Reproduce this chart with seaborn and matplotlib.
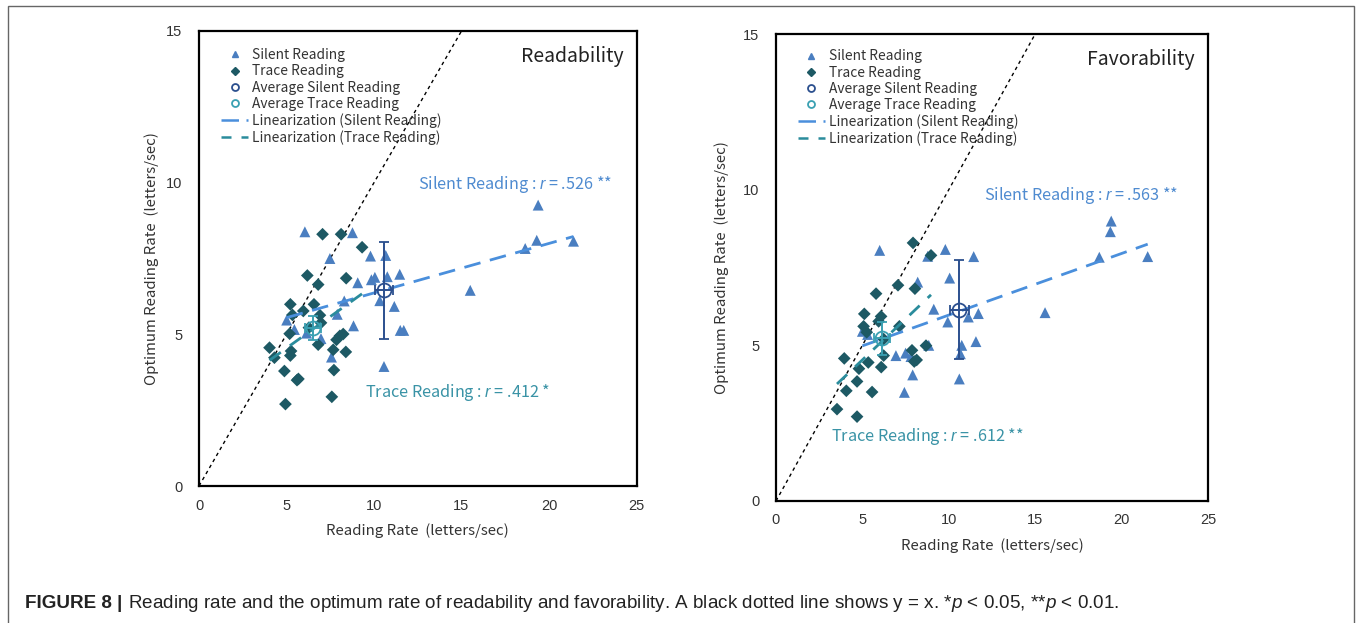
import numpy as np
import pandas as pd
import matplotlib
matplotlib.use("Agg")
import matplotlib.pyplot as plt
import seaborn as sns
from matplotlib.lines import Line2D
from matplotlib.patches import Rectangle

# ---- Readability panel ----
read_silent_x = [6.05, 8.77, 7.48, 9.80, 10.67, 9.07, 9.85, 10.05, 10.76, 11.47, 8.30, 10.33, 11.16, 7.90,
                 8.83, 5.01, 5.45, 6.15, 6.97, 11.50, 11.70, 7.57, 10.57, 19.38, 19.30, 18.64, 21.40, 15.50]
read_silent_y = [8.38, 8.35, 7.50, 7.58, 7.60, 6.70, 6.80, 6.88, 6.90, 6.98, 6.10, 6.11, 5.92, 5.66,
                 5.28, 5.47, 5.16, 5.04, 4.86, 5.13, 5.13, 4.25, 3.94, 9.26, 8.10, 7.83, 8.07, 6.45]
read_trace_x = [7.06, 8.12, 9.32, 6.19, 8.41, 6.81, 5.22, 6.57, 5.34, 6.91, 6.97, 5.18, 6.28, 6.81, 8.24,
                8.05, 7.86, 4.03, 4.31, 5.26, 5.22, 7.67, 8.39, 4.88, 7.71, 5.68, 5.60, 7.59, 4.94, 5.96]
read_trace_y = [8.30, 8.30, 7.87, 6.94, 6.85, 6.64, 5.99, 5.99, 5.64, 5.63, 5.38, 5.02, 5.22, 4.66, 5.01,
                4.95, 4.82, 4.56, 4.23, 4.45, 4.30, 4.49, 4.42, 3.79, 3.82, 3.53, 3.49, 2.94, 2.70, 5.77]
# averages: [silent, trace]
read_avg_x = [10.57, 6.50]
read_avg_y = [6.45, 5.20]
read_sd_x = [0.50, 0.47]
read_sd_y = [1.60, 0.39]
read_r = [".526 **", ".412 *"]

# ---- Favorability panel ----
fav_silent_x = [6.00, 9.80, 11.44, 8.78, 10.05, 8.20, 9.13, 9.94, 11.13, 11.71, 10.75, 10.67, 11.57, 10.61,
                6.94, 7.50, 7.81, 7.91, 7.43, 8.84, 5.00, 5.30, 19.40, 19.35, 18.71, 21.51, 15.57]
fav_silent_y = [8.05, 8.08, 7.85, 7.86, 7.16, 7.03, 6.16, 5.75, 5.91, 6.02, 5.00, 4.73, 5.12, 3.92,
                4.67, 4.75, 4.64, 4.05, 3.49, 5.00, 5.45, 5.35, 8.99, 8.65, 7.83, 7.85, 6.05]
fav_trace_x = [7.93, 8.97, 5.79, 7.06, 8.04, 5.11, 6.08, 5.94, 5.07, 5.25, 7.14, 6.23, 5.34, 6.09,
               3.95, 4.80, 4.69, 4.07, 5.56, 7.87, 8.68, 8.00, 8.14, 3.53, 4.69, 6.23]
fav_trace_y = [8.29, 7.89, 6.66, 6.93, 6.82, 6.01, 5.93, 5.77, 5.61, 5.42, 5.61, 4.67, 4.45, 4.30,
               4.58, 4.25, 3.84, 3.54, 3.50, 4.84, 4.99, 4.48, 4.53, 2.95, 2.71, 5.20]
fav_avg_x = [10.61, 6.13]
fav_avg_y = [6.15, 5.23]
fav_sd_x = [0.55, 0.48]
fav_sd_y = [1.58, 0.53]
fav_r = [".563 **", ".612 **"]

C_SIL = "#4a7ec0"
C_TR = "#1d5964"
C_LSIL = "#4a8fdc"
C_LTR = "#2a8c9c"
C_AVS = "#2b4f8e"
C_AVT = "#3aa0b2"
C_TSIL = "#4f8bd0"
C_TTR = "#3a93a6"

sns.set_theme(style="white")
plt.rcParams["font.family"] = ["Noto Sans CJK JP", "DejaVu Sans"]
plt.rcParams["mathtext.fontset"] = "custom"
plt.rcParams["mathtext.it"] = "Liberation Sans:italic"
plt.rcParams["mathtext.rm"] = "Liberation Sans"

fig = plt.figure(figsize=(13.57, 6.23), dpi=100)
W, H = 1357, 623


def px_axes(x0, x1, top, bottom):
    return fig.add_axes([x0 / W, 1 - bottom / H, (x1 - x0) / W, (bottom - top) / H])


ax1 = px_axes(199, 636.5, 31, 486)
ax2 = px_axes(776, 1208, 34, 501)


def draw_panel(ax, sx, sy, tx, ty, avg_x, avg_y, sd_x, sd_y, r_txt, title, pos_s, pos_t,
               leg_top, ylab_pad):
    ax.axline((0, 0), slope=1, color="black", lw=1.0, ls=(0, (2.5, 2.5)), zorder=1)
    sns.scatterplot(x=sx, y=sy, marker="^", s=62, color=C_SIL, edgecolor="none", ax=ax, zorder=2)
    sns.scatterplot(x=tx, y=ty, marker="D", s=42, color=C_TR, edgecolor="none", ax=ax, zorder=2)
    sns.regplot(x=sx, y=sy, scatter=False, ci=None, ax=ax,
                line_kws=dict(color=C_LSIL, lw=2.0, ls=(0, (6, 3.5)), zorder=3))
    sns.regplot(x=tx, y=ty, scatter=False, ci=None, ax=ax,
                line_kws=dict(color=C_LTR, lw=2.0, ls=(0, (5, 4)), zorder=3))
    ax.errorbar(avg_x[0], avg_y[0], xerr=sd_x[0], yerr=sd_y[0], fmt="o", ms=10, mfc="none",
                mec=C_AVS, mew=1.3, ecolor=C_AVS, elinewidth=1.4, capsize=3.5, capthick=1.3, zorder=4)
    ax.errorbar(avg_x[1], avg_y[1], xerr=sd_x[1], yerr=sd_y[1], fmt="o", ms=10, mfc="none",
                mec=C_AVT, mew=1.3, ecolor=C_AVT, elinewidth=1.4, capsize=3.5, capthick=1.3, zorder=4)

    ax.set_xlim(0, 25)
    ax.set_ylim(0, 15)
    ax.set_xticks([0, 5, 10, 15, 20, 25])
    ax.set_yticks([0, 5, 10, 15])
    ax.tick_params(axis="both", direction="in", length=3, width=1, labelsize=10.5,
                   labelcolor="#333333", colors="black")
    ax.tick_params(axis="x", pad=9)
    ax.tick_params(axis="y", pad=12)
    for lab in ax.get_xticklabels() + ax.get_yticklabels():
        lab.set_family(["Liberation Sans", "DejaVu Sans"])
    for sp in ax.spines.values():
        sp.set_visible(True)
        sp.set_color("black")
        sp.set_linewidth(1.6)
    ax.set_xlabel("Reading Rate  (letters/sec)", fontsize=10.8, color="#333333", labelpad=8)
    ax.set_ylabel("Optimum Reading Rate  (letters/sec)", fontsize=10.8, color="#333333",
                  labelpad=ylab_pad)

    ax.text(0.97, 0.945, title, transform=ax.transAxes, ha="right", va="center",
            fontsize=14, color="#222222")
    ax.text(pos_s[0], pos_s[1], "Silent Reading : $r$ = " + r_txt[0], ha="left", va="center",
            fontsize=11.7, color=C_TSIL)
    ax.text(pos_t[0], pos_t[1], "Trace Reading : $r$ = " + r_txt[1], ha="left", va="center",
            fontsize=11.7, color=C_TTR)

    handles = [
        Line2D([], [], marker="^", ls="none", color=C_SIL, ms=5),
        Line2D([], [], marker="D", ls="none", color=C_TR, ms=4),
        Line2D([], [], marker="o", ls="none", mfc="none", mec=C_AVS, ms=5, mew=1.3),
        Line2D([], [], marker="o", ls="none", mfc="none", mec=C_AVT, ms=5, mew=1.3),
        Line2D([], [], color=C_LSIL, lw=1.8, ls=(0, (7, 3, 4, 3))),
        Line2D([], [], color=C_LTR, lw=1.8, ls=(0, (4, 4))),
    ]
    labels = ["Silent Reading", "Trace Reading", "Average Silent Reading", "Average Trace Reading",
              "Linearization (Silent Reading)", "Linearization (Trace Reading)"]
    leg = ax.legend(handles, labels, loc="upper left", bbox_to_anchor=(0.05, leg_top), frameon=False,
                    fontsize=9.9, handlelength=2.0, handletextpad=0.25, labelspacing=0.16,
                    borderpad=0, borderaxespad=0)
    for t in leg.get_texts():
        t.set_color("#333333")


draw_panel(ax1, read_silent_x, read_silent_y, read_trace_x, read_trace_y,
           read_avg_x, read_avg_y, read_sd_x, read_sd_y, read_r, "Readability",
           (12.5, 9.94), (9.5, 3.07), 0.962, 5)
draw_panel(ax2, fav_silent_x, fav_silent_y, fav_trace_x, fav_trace_y,
           fav_avg_x, fav_avg_y, fav_sd_x, fav_sd_y, fav_r, "Favorability",
           (12.05, 9.82), (3.2, 2.06), 0.967, 10)

# outer frame
fig.patches.append(Rectangle((7.5 / W, -0.05), (1354 - 7.5) / W, 1.05 - 6 / H, transform=fig.transFigure,
                             fill=False, edgecolor="#666666", lw=1.0))

# caption
cap_font = ["Liberation Sans Narrow", "Liberation Sans", "DejaVu Sans"]
t1 = fig.text(25 / W, 1 - 603 / H, "FIGURE 8 | ", fontsize=13.6, weight="bold", va="center",
              family=cap_font, color="#222222")
fig.canvas.draw()
bb = t1.get_window_extent(fig.canvas.get_renderer())
fig.text(bb.x1 / W, 1 - 603 / H,
         "Reading rate and the optimum rate of readability and favorability. "
         "A black dotted line shows y = x. *$p$ < 0.05, **$p$ < 0.01.",
         fontsize=13.6, va="center", family=cap_font, color="#222222")

fig.savefig("out.png", dpi=100)
